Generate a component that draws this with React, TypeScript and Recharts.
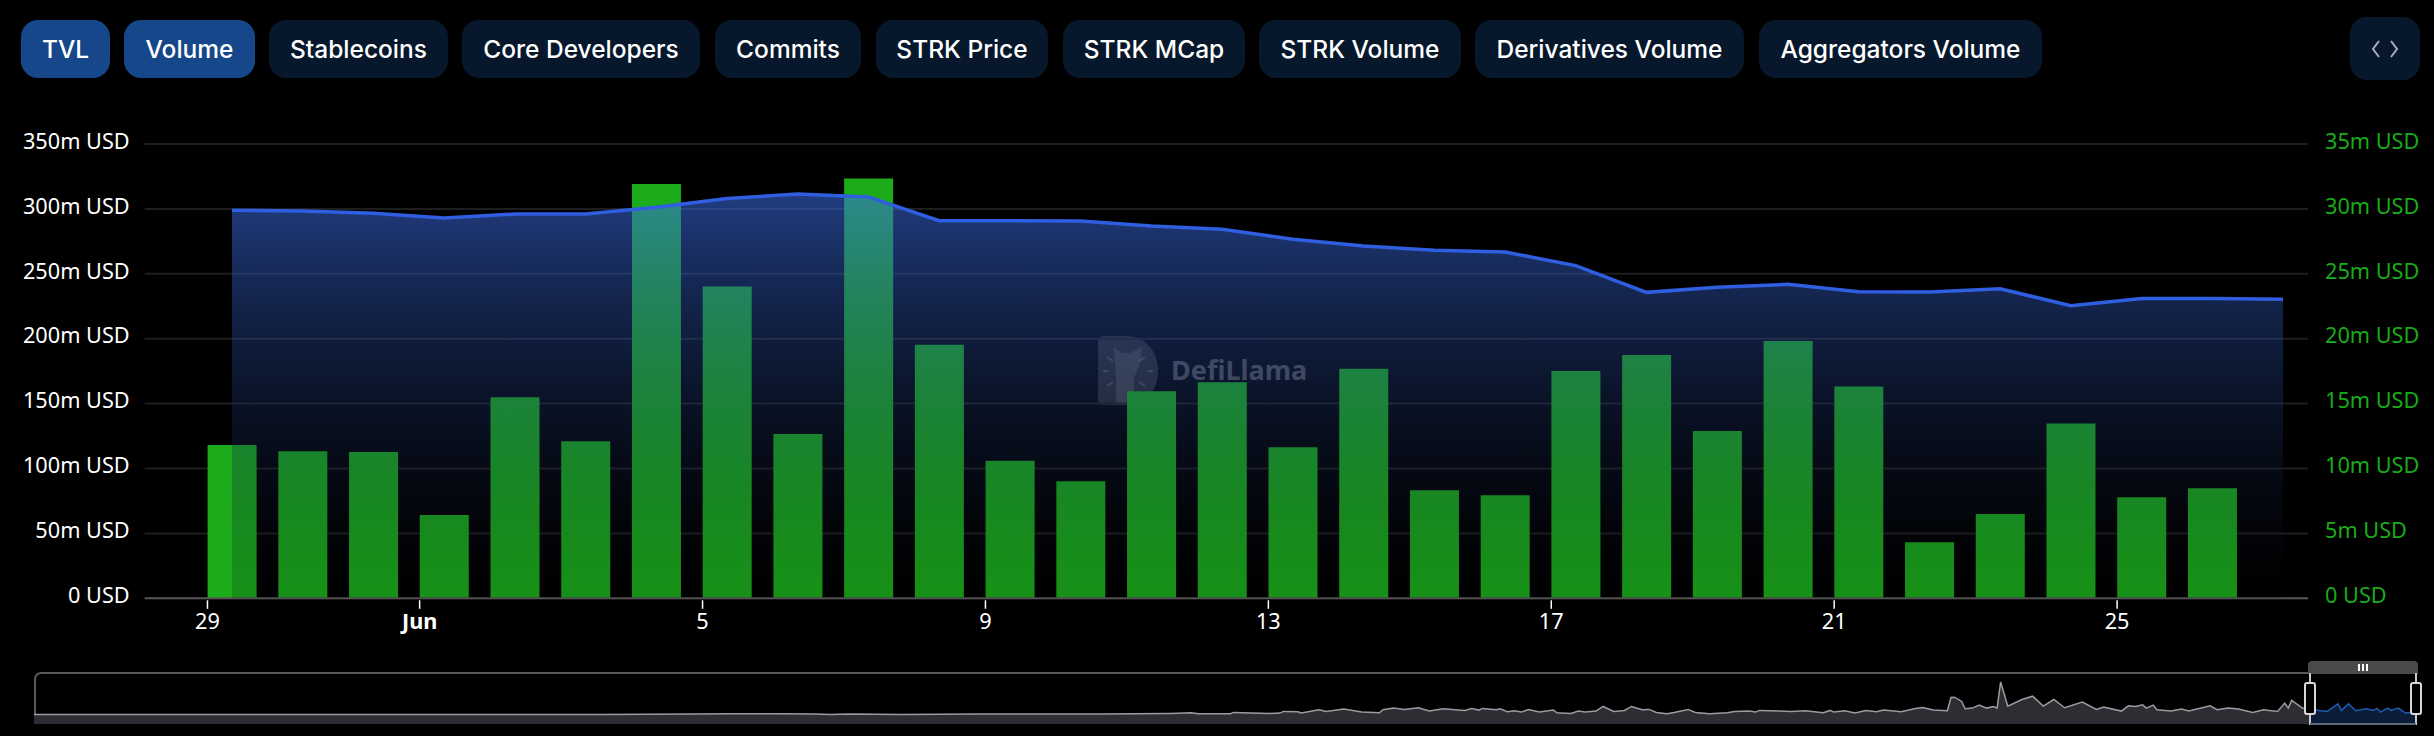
import React from 'react';
import { ComposedChart, AreaChart, Area, Bar, XAxis, YAxis, CartesianGrid } from 'recharts';

// chart values
const days = [
  '05-29', '05-30', '05-31', '06-01', '06-02', '06-03', '06-04', '06-05', '06-06', '06-07',
  '06-08', '06-09', '06-10', '06-11', '06-12', '06-13', '06-14', '06-15', '06-16', '06-17',
  '06-18', '06-19', '06-20', '06-21', '06-22', '06-23', '06-24', '06-25', '06-26', '06-27'
];
const tvl = [
  298.9, 298.4, 296.6, 293, 296, 296, 301.2, 308, 311.5, 309.2,
  290.9, 290.9, 290.7, 286.8, 284.3, 276.6, 271.4, 268.1, 266.8, 256.3,
  235.7, 239.6, 241.9, 236.2, 236, 238.5, 225.4, 231, 231, 230.4
];
const volume = [
  11.81, 11.33, 11.27, 6.42, 15.49, 12.1, 31.92, 24.03, 12.66, 32.35,
  19.54, 10.6, 9.01, 15.95, 16.64, 11.63, 17.69, 8.32, 7.94, 17.51,
  18.74, 12.89, 19.82, 16.31, 4.31, 6.5, 13.46, 7.78, 8.47
];
const tickDays = ['05-29', '06-01', '06-05', '06-09', '06-13', '06-17', '06-21', '06-25'];
const tickNames = ['29', 'Jun', '5', '9', '13', '17', '21', '25'];
const tvlTicks = [0, 50, 100, 150, 200, 250, 300, 350];
const volumeTicks = [0, 5, 10, 15, 20, 25, 30, 35];

const tabs = [
  'TVL', 'Volume', 'Stablecoins', 'Core Developers', 'Commits', 'STRK Price',
  'STRK MCap', 'STRK Volume', 'Derivatives Volume', 'Aggregators Volume'
];
const tabEdges = [
  [21, 110], [124, 255], [269, 448], [462, 700], [715, 861],
  [876, 1048], [1063, 1245], [1259, 1461], [1475, 1744], [1759, 2042]
];

// overview strip under the chart
const navDays = [
  0, 47, 103, 159, 186, 195, 210, 220, 224, 230, 244, 266, 300, 320, 326, 328, 337, 338, 348, 351,
  352, 356, 357, 362, 364, 369, 374, 379, 380, 383, 386, 390, 393, 397, 403, 405, 407, 408, 412, 413,
  415, 417, 419, 421, 424, 428, 429, 433, 435, 437, 440, 442, 445, 448, 450, 453, 455, 457, 460, 462,
  466, 468, 472, 477, 479, 483, 485, 486, 495, 499, 504, 506, 507, 510, 513, 516, 519, 521, 526, 530,
  532, 535, 539, 540, 541, 543, 544, 546, 548, 550, 552, 553, 554, 556, 560, 563, 566, 569, 572, 577,
  581, 583, 588, 590, 592, 594, 595, 597, 598, 602, 605, 607, 613, 615, 618, 621, 625, 628, 632, 634,
  635, 636, 639, 641, 644, 646, 649, 650, 652, 654, 657, 659, 660, 661, 663, 664, 666, 668, 671
];
const navLevels = [
  29, 29, 29, 29, 30, 31, 31, 30, 29, 30, 29, 30, 30, 32, 34, 31, 31, 35, 32, 33,
  38, 37, 33, 43, 38, 45, 36, 34, 43, 48, 44, 49, 39, 46, 41, 47, 42, 47, 43, 46,
  37, 40, 36, 44, 36, 42, 34, 32, 39, 36, 39, 53, 38, 41, 53, 43, 44, 35, 31, 35,
  44, 35, 31, 34, 38, 39, 36, 41, 38, 40, 34, 41, 36, 40, 33, 41, 37, 42, 37, 47,
  50, 42, 40, 80, 81, 68, 46, 48, 57, 48, 53, 48, 127, 54, 74, 84, 54, 74, 49, 66,
  44, 51, 39, 55, 53, 58, 48, 57, 43, 39, 45, 39, 55, 43, 48, 45, 35, 43, 38, 63,
  48, 71, 48, 46, 40, 38, 61, 41, 61, 40, 46, 41, 47, 36, 48, 41, 48, 33, 37
];
const navStart = 641;
const navEnd = 671;

const chartData = days.map((day, i) => ({ day, tvl: tvl[i], volume: volume[i] }));
const navData = navDays.map((day, i) => ({
  day,
  before: day <= navStart ? navLevels[i] : null,
  inside: day >= navStart ? navLevels[i] : null
}));

const axisFont = '"Noto Sans", sans-serif';
const axisSize = 21.7;
const bandPadding = { left: 51.9, right: -10.4 };
const formatAxis = (value: number) => (value === 0 ? '0 USD' : `${value}m USD`);

// ticks sit on the left edge of each bar, not on its centre
const DayTick = ({ x, y, payload }: any) => {
  const name = tickNames[tickDays.indexOf(payload.value)];
  const left = x - 24.5;
  return (
    <g>
      <line x1={left} x2={left} y1={y - 6} y2={y + 2.5} stroke="#fff" strokeWidth={1.5} />
      <text
        x={left}
        y={y + 23}
        textAnchor="middle"
        fill="#fff"
        fontFamily={axisFont}
        fontSize={axisSize}
        fontWeight={name === 'Jun' ? 700 : 400}
      >
        {name}
      </text>
    </g>
  );
};

const Watermark = () => (
  <div style={{ position: 'absolute', left: 1098, top: 336, width: 210, height: 70 }}>
    <svg width={62} height={70} style={{ position: 'absolute', left: 0, top: 0 }}>
      <path d="M0 6 Q0 0 6 0 H28 C48 0 60 16 60 35 C60 54 48 69 28 69 H6 Q0 69 0 63 Z" fill="rgba(255,255,255,0.16)" />
      <path d="M18 69 V40 L17 26 L15 11 L24 17 H32 L44 11 L42 28 L36 42 V69 Z" fill="rgba(255,255,255,0.12)" />
      <path d="M9 21 L15 25 M5 35 L10 35 M9 50 L15 46 M47 21 L41 25 M55 35 L50 35 M47 50 L41 46" stroke="rgba(255,255,255,0.18)" strokeWidth={2} />
    </svg>
    <div
      style={{
        position: 'absolute',
        left: 73,
        top: 16,
        fontFamily: '"Noto Sans", sans-serif',
        fontWeight: 700,
        fontSize: 27,
        lineHeight: '36px',
        color: 'rgba(255,255,255,0.32)'
      }}
    >
      DefiLlama
    </div>
  </div>
);

const Navigator = () => (
  <>
    <div
      style={{
        position: 'absolute',
        left: 34,
        top: 672,
        width: 2382,
        height: 52,
        boxSizing: 'border-box',
        border: '2px solid #5a5a5a',
        borderBottomColor: '#7c7c7c',
        borderRight: 'none',
        borderRadius: '7px 0 0 7px'
      }}
    />
    <div style={{ position: 'absolute', left: 34, top: 673 }}>
      <AreaChart width={2382} height={51} data={navData} margin={{ top: 0, right: 0, bottom: 0, left: 0 }}>
        <XAxis type="number" dataKey="day" domain={[0, navEnd]} hide />
        <YAxis type="number" domain={[0, 154]} hide />
        <Area dataKey="before" type="linear" stroke="#9b9ca0" strokeWidth={1.5} fill="#2d2e33" fillOpacity={1} dot={false} isAnimationActive={false} />
        <Area dataKey="inside" type="linear" stroke="#1d5cb0" strokeWidth={1.5} fill="#0a1c38" fillOpacity={1} dot={false} isAnimationActive={false} />
      </AreaChart>
    </div>
    <div style={{ position: 'absolute', left: 2308, top: 661, width: 110, height: 13, background: '#4a4a4a', borderRadius: '4px 4px 0 0' }}>
      {[0, 1, 2].map(i => (
        <div key={i} style={{ position: 'absolute', left: 50 + i * 4, top: 3, width: 2, height: 7, background: '#fff' }} />
      ))}
    </div>
    {[2310, 2416].map(x => (
      <React.Fragment key={x}>
        <div style={{ position: 'absolute', left: x - 1, top: 673, width: 2, height: 52, background: '#c9c9c9' }} />
        <div
          style={{
            position: 'absolute',
            left: x - 6,
            top: 682,
            width: 12,
            height: 33,
            boxSizing: 'border-box',
            border: '2px solid #d8d8d8',
            borderRadius: 3,
            background: '#000'
          }}
        />
      </React.Fragment>
    ))}
    <div style={{ position: 'absolute', left: 2310, top: 723, width: 106, height: 2, background: '#5f6b7c' }} />
  </>
);

export default function App() {
  return (
    <div style={{ position: 'absolute', left: 0, top: 0, width: 2434, height: 736, background: '#000', overflow: 'hidden' }}>
      {tabs.map((tab, i) => (
        <div
          key={tab}
          style={{
            position: 'absolute',
            left: tabEdges[i][0],
            top: 20,
            width: tabEdges[i][1] - tabEdges[i][0],
            height: 58,
            borderRadius: 17,
            background: i < 2 ? '#16478a' : '#08182c',
            color: '#fff',
            fontFamily: 'Inter, sans-serif',
            fontWeight: 500,
            fontSize: 24.5,
            lineHeight: '58px',
            textAlign: 'center',
            whiteSpace: 'nowrap'
          }}
        >
          {tab}
        </div>
      ))}
      <div style={{ position: 'absolute', left: 2350, top: 17, width: 70, height: 63, borderRadius: 17, background: '#08182c' }}>
        <svg width={70} height={63}>
          <path d="M29 24 L23 32 L29 40 M41 24 L47 32 L41 40" stroke="#a9aeb6" strokeWidth={2} fill="none" />
        </svg>
      </div>

      <Watermark />

      <div style={{ position: 'absolute', left: 0, top: 0 }}>
        <ComposedChart
          width={2434}
          height={736}
          data={chartData}
          margin={{ top: 144, right: 0, bottom: 97.7, left: 24.7 }}
        >
          <CartesianGrid yAxisId="tvl" vertical={false} stroke="#1e1e1e" strokeWidth={2} />
          <XAxis
            dataKey="day"
            height={40}
            padding={bandPadding}
            ticks={tickDays}
            interval={0}
            tick={<DayTick />}
            tickLine={false}
            axisLine={{ stroke: '#555', strokeWidth: 2 }}
          />
          <YAxis
            yAxisId="tvl"
            width={120}
            domain={[0, 350]}
            ticks={tvlTicks}
            tickFormatter={formatAxis}
            axisLine={false}
            tickLine={false}
            tickMargin={9}
            tick={{ fill: '#fff', fontFamily: axisFont, fontSize: axisSize, dy: -3 }}
          />
          <YAxis
            yAxisId="volume"
            orientation="right"
            width={126}
            domain={[0, 35]}
            ticks={volumeTicks}
            tickFormatter={formatAxis}
            axisLine={false}
            tickLine={false}
            tickMargin={11}
            tick={{ fill: '#1aab1a', fontFamily: axisFont, fontSize: axisSize, dy: -3 }}
          />
          {/* keeps the left axis scaled here; the visible area is in the chart on top */}
          <Area yAxisId="tvl" dataKey="tvl" type="linear" stroke="none" fill="none" dot={false} isAnimationActive={false} />
          <Bar yAxisId="volume" dataKey="volume" barSize={49} fill="#1bab1b" isAnimationActive={false} />
        </ComposedChart>
      </div>

      {/* the TVL area has to cover the bars, so it gets its own chart on top */}
      <div style={{ position: 'absolute', left: 0, top: 0 }}>
        <ComposedChart
          width={2434}
          height={736}
          data={chartData}
          margin={{ top: 144, right: 126, bottom: 137.7, left: 144.7 }}
        >
          <defs>
            <linearGradient id="tvlFill" x1="0" y1="0" x2="0" y2="1">
              <stop offset="0%" stopColor="#3b6ee8" stopOpacity={0.55} />
              <stop offset="100%" stopColor="#000" stopOpacity={0.15} />
            </linearGradient>
          </defs>
          <XAxis dataKey="day" scale="band" padding={bandPadding} hide />
          <YAxis yAxisId="tvl" domain={[0, 350]} hide />
          <Area
            yAxisId="tvl"
            dataKey="tvl"
            type="linear"
            stroke="#2f5fe0"
            strokeWidth={3.5}
            fill="url(#tvlFill)"
            fillOpacity={1}
            dot={false}
            isAnimationActive={false}
          />
        </ComposedChart>
      </div>

      <Navigator />
    </div>
  );
}
